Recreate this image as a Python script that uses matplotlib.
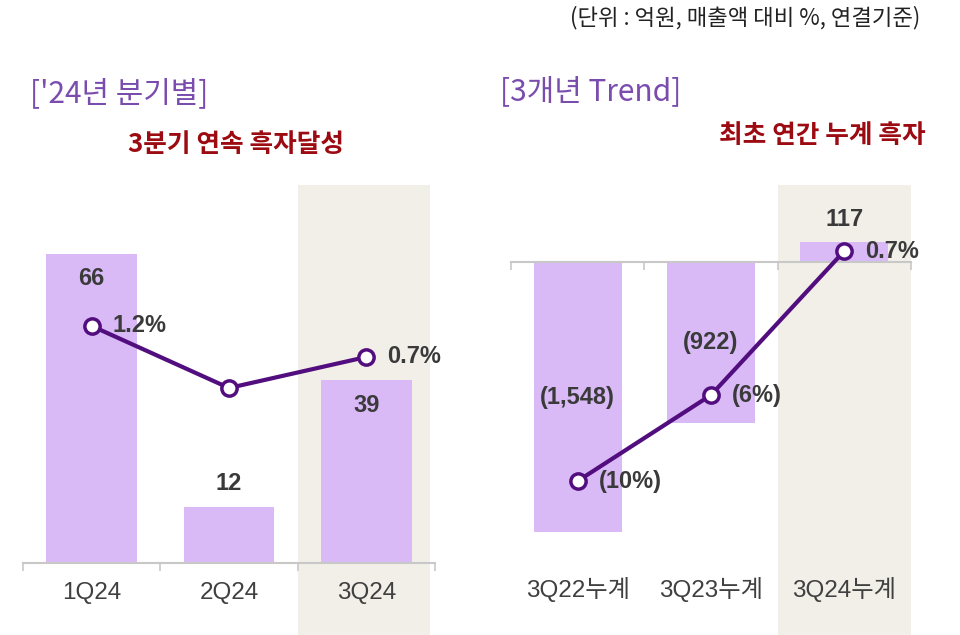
import matplotlib
matplotlib.use("Agg")
import matplotlib.pyplot as plt
import matplotlib.transforms as mtrans

plt.rcParams['font.family'] = ['Liberation Sans', 'Noto Sans CJK KR', 'DejaVu Sans']

# data
quarters = ['1Q24', '2Q24', '3Q24']
quarter_profit = [66, 12, 39]          # 억원
quarter_margin = [1.2, 0.2, 0.7]       # 매출액 대비 %
quarter_margin_labels = ['1.2%', '', '0.7%']

years = ['3Q22누계', '3Q23누계', '3Q24누계']
year_profit = [-1548, -922, 117]
year_profit_labels = ['(1,548)', '(922)', '117']
year_margin = [-10, -6, 0.7]
year_margin_labels = ['(10%)', '(6%)', '0.7%']

BAR = '#D9BAF7'
SHADE = '#F2EEE8'
LINE = '#520E7E'
TXT = '#3A3A3A'
AXIS = '#C8C8C8'
TITLE = '#7A4CAE'
RED = '#9C0A12'

W, H = 960, 635
fig = plt.figure(figsize=(W / 100, H / 100), dpi=100)


def px_axes(x0, x1, y0, y1):
    return fig.add_axes([x0 / W, 1 - y1 / H, (x1 - x0) / W, (y1 - y0) / H])


def style_axis(ax):
    for s in ['top', 'right', 'left']:
        ax.spines[s].set_visible(False)
    ax.spines['bottom'].set_position(('data', 0))
    ax.spines['bottom'].set_color(AXIS)
    ax.spines['bottom'].set_linewidth(1.5)
    ax.set_xticks([-0.5, 0.5, 1.5, 2.5])
    ax.set_xticklabels([])
    ax.tick_params(axis='x', length=6, width=1.2, color=AXIS, direction='out')
    ax.set_yticks([])
    ax.set_xlim(-0.5, 2.5)
    ax.patch.set_alpha(0)


def draw_panel(ax, cats, vals, shade_end, ylim, label_y):
    style_axis(ax)
    ax.set_ylim(*ylim)
    ax.axvspan(1.5, shade_end, color=SHADE, zorder=0, lw=0)
    x = range(len(cats))
    ax.bar(x, vals, width=0.66, color=BAR, zorder=2)
    trans = mtrans.blended_transform_factory(ax.transData, ax.transAxes)
    for i, c in enumerate(cats):
        ax.text(i, label_y, c, transform=trans, ha='center', va='center',
                fontsize=17.5, color='#404040')


def draw_line(ax, vals, labels, ylim):
    ax.set_ylim(*ylim)
    ax.axis('off')
    x = list(range(len(vals)))
    ax.plot(x, vals, color=LINE, lw=3, marker='o', ms=11,
            mfc='white', mec=LINE, mew=2.5, zorder=5)
    for i, (v, lab) in enumerate(zip(vals, labels)):
        if lab:
            ax.annotate(lab, (i, v), xytext=(15, 0), textcoords='offset points',
                        ha='left', va='center', fontsize=17, fontweight='bold',
                        color=TXT)


# left panel: quarterly
axL = px_axes(23, 435, 185, 635)
draw_panel(axL, quarters, quarter_profit, 2.46, (-15.38, 80.73), (635 - 593) / 450)
for i, v in enumerate(quarter_profit):
    off = 17 if v < 20 else -18
    axL.annotate(str(v), (i, v), xytext=(0, off), textcoords='offset points',
                 ha='center', va='center', fontsize=17, fontweight='bold', color=TXT)
axL2 = axL.twinx()
draw_line(axL2, quarter_margin, quarter_margin_labels, (-3.784, 3.474))

# right panel: 3-year cumulative
axR = px_axes(511, 911, 185, 635)
draw_panel(axR, years, year_profit, 2.5, (-2139, 444), (635 - 590) / 450)
for i, (v, lab) in enumerate(zip(year_profit, year_profit_labels)):
    if v < 0:
        axR.text(i, v / 2, lab, ha='center', va='center', fontsize=17,
                 fontweight='bold', color=TXT)
    else:
        axR.annotate(lab, (i, v), xytext=(0, 16), textcoords='offset points',
                     ha='center', va='center', fontsize=17, fontweight='bold', color=TXT)
axR2 = axR.twinx()
draw_line(axR2, year_margin, year_margin_labels, (-17.16, 3.77))

# titles and notes
kr = ['Noto Sans CJK KR', 'DejaVu Sans']
fig.text(920 / W, 1 - 18 / H, '(단위 : 억원, 매출액 대비 %, 연결기준)', ha='right', va='center',
         fontsize=16, color='#222222', family=kr)
fig.text(30 / W, 1 - 94 / H, "['24년 분기별]", ha='left', va='center',
         fontsize=21.5, fontweight='medium', color=TITLE, family=kr)
fig.text(500 / W, 1 - 92 / H, '[3개년 Trend]', ha='left', va='center',
         fontsize=21.5, fontweight='medium', color=TITLE, family=kr)
fig.text(236 / W, 1 - 145 / H, '3분기 연속 흑자달성', ha='center', va='center',
         fontsize=18.5, fontweight='bold', color=RED, family=kr)
fig.text(822 / W, 1 - 135 / H, '최초 연간 누계 흑자', ha='center', va='center',
         fontsize=18.5, fontweight='bold', color=RED, family=kr)

fig.savefig('out.png', dpi=100)
